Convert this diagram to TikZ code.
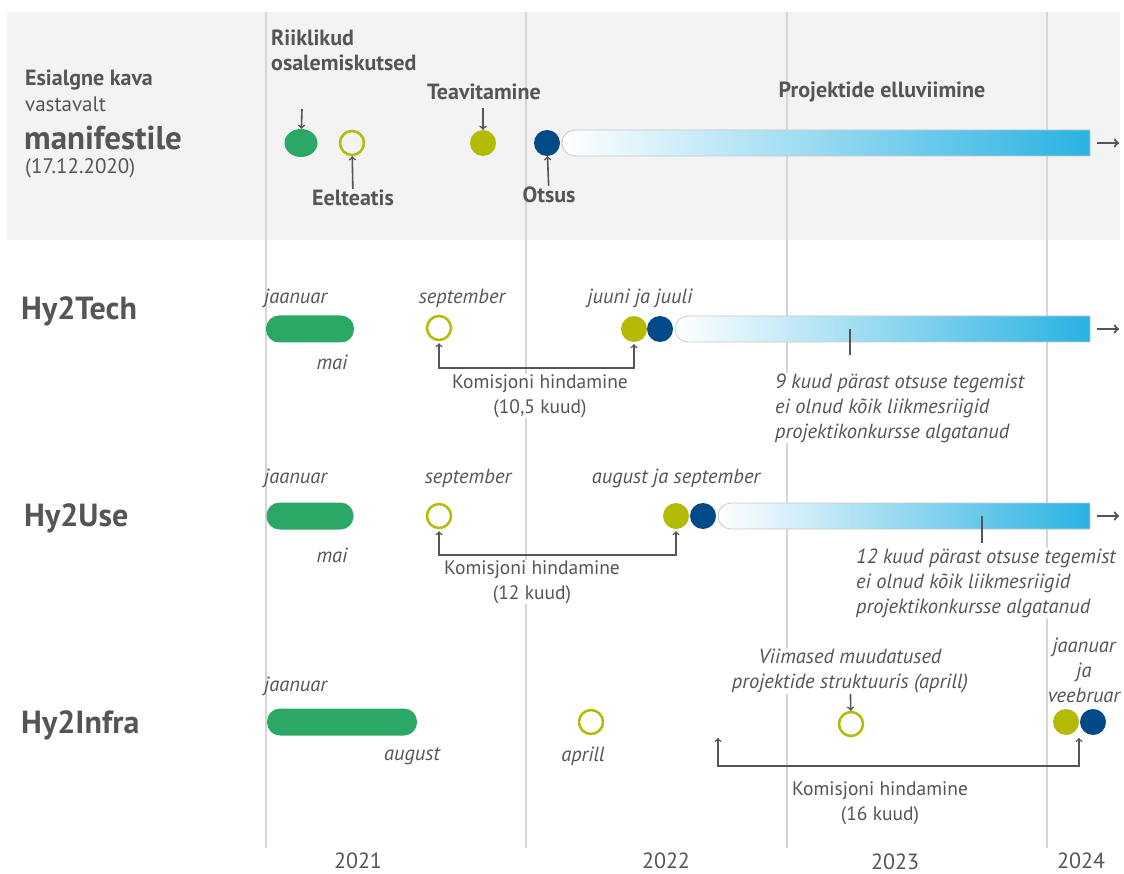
\documentclass[tikz,border=0pt]{standalone}
\usepackage{fontspec}
\setmainfont{PT Sans}
\usetikzlibrary{positioning,shapes.geometric}
\definecolor{ink}{RGB}{85,85,85}
\definecolor{band}{RGB}{243,243,243}
\definecolor{gridgray}{RGB}{214,214,214}
\definecolor{kgreen}{RGB}{43,168,102}
\definecolor{olive}{RGB}{181,186,5}
\definecolor{navy}{RGB}{0,74,135}
\definecolor{barblue}{RGB}{41,178,226}
\definecolor{barline}{RGB}{200,200,200}
\newcommand{\projbar}[3]{\shadedraw[left color=white,right color=barblue,draw=barline,line width=0.8pt]
  (#2,#3-13) -- (#1+13,#3-13) arc[start angle=90,end angle=270,radius=13pt] -- (#2,#3+13) -- cycle;}

\begin{document}
\begin{tikzpicture}[x=1pt,y=-1pt,
  txt/.style={text=ink,inner sep=1pt,font=\fontsize{21}{25}\selectfont},
  bold/.style={txt,font=\fontsize{22}{25}\selectfont\bfseries},
  rowname/.style={txt,anchor=west,font=\fontsize{32}{36}\selectfont\bfseries},
  month/.style={txt,font=\fontsize{20.5}{25}\selectfont\itshape},
  note/.style={month,align=left,fill=white,anchor=west},
  komis/.style={txt,font=\fontsize{19.5}{24.5}\selectfont,align=center,fill=white},
  year/.style={txt,font=\fontsize{22}{26}\selectfont},
  dot/.style={circle,minimum size=26pt,inner sep=0pt,fill=#1},
  ring/.style={circle,minimum size=24pt,inner sep=0pt,draw=olive,line width=2.5pt},
  pill/.style={fill=kgreen,rounded corners=13pt,minimum height=27pt,inner sep=0pt,minimum width=#1},
  gridline/.style={draw=gridgray,line width=2pt},
  pointer/.style={draw=ink,line width=1.6pt,->},
  bracket/.style={draw=ink,line width=1.5pt,<->,shorten <=2pt,shorten >=2pt},
  goon/.style={draw=ink,line width=2.2pt,->},
  tick/.style={draw=ink,line width=2pt}]
\useasboundingbox (0,0) rectangle (1124,874);
\fill[band] (7,12) rectangle (1120,240);
\foreach \gx in {266,526,787,1047} \draw[gridline] (\gx,12) -- (\gx,848);

% esialgne kava
\node[bold,anchor=west] (kava) at (24,80) {Esialgne kava};
\node[txt,anchor=west] (vast) at (24,104) {vastavalt};
\node[txt,anchor=west,font=\fontsize{33}{36}\selectfont\bfseries] (manif) at (23,138) {manifestile};
\node[txt,anchor=west] (kuup) at (24,168) {(17.12.2020)};
\node[bold,anchor=west,align=left] (riik) at (270,50) {Riiklikud\\osalemiskutsed};
\node[bold] (teav) at (484,92) {Teavitamine};
\node[bold] (proj) at (882,92) {Projektide elluviimine};
\node[bold] (eelt) at (353,198) {Eelteatis};
\node[bold] (otsus) at (549,195) {Otsus};
\projbar{562}{1090}{143}
\node[ellipse,fill=kgreen,minimum width=33pt,minimum height=28pt,inner sep=0pt] (g0) at (301,143) {};
\node[ring] (e0) at (352,143) {};
\node[dot=olive] (t0) at (483,143) {};
\node[dot=navy] (o0) at (547,143) {};
\coordinate (riikin) at (302,109); \coordinate (teavin) at (483,108);
\draw[pointer] (riikin) -- (g0); \draw[pointer] (teavin) -- (t0);
\draw[pointer] (eelt) -- (e0); \draw[pointer] (otsus) -- (o0);
\coordinate (b0a) at (1097,143); \coordinate (b0b) at (1119,143);
\draw[goon] (b0a) -- (b0b);

% Hy2Tech
\node[rowname] (tech) at (20,311) {Hy2Tech};
\node[month,anchor=west] (tjaan) at (263,298) {jaanuar};
\node[month] (tmai) at (332,362) {mai};
\node[month] (tsep) at (462,298) {september};
\node[month] (tjuuni) at (640,298) {juuni ja juuli};
\node[pill=88pt] (g1) at (310,329) {};
\node[ring] (e1) at (439,328) {};
\projbar{675}{1090}{329}
\node[dot=olive] (t1) at (634,329) {};
\node[dot=navy] (o1) at (660,329) {};
\coordinate (tmark) at (850,329); \coordinate (tmarkend) at (850,355);
\draw[tick] (tmark) -- (tmarkend);
\node[note] (tnote) at (774,408) {9 kuud pärast otsuse tegemist\\ei olnud kõik liikmesriigid\\projektikonkursse algatanud};
\draw[bracket] (e1) -- (e1 |- 0,368) -| (t1);
\node[komis] (tkom) at (540,396) {Komisjoni hindamine\\(10,5 kuud)};
\coordinate (b1a) at (1097,329); \coordinate (b1b) at (1119,329);
\draw[goon] (b1a) -- (b1b);

% Hy2Use
\node[rowname] (use) at (23,518) {Hy2Use};
\node[month,anchor=west] (ujaan) at (263,478) {jaanuar};
\node[month] (umai) at (332,555) {mai};
\node[month] (usep) at (468,478) {september};
\node[month] (uaug) at (676,478) {august ja september};
\node[pill=87pt] (g2) at (310,516) {};
\node[ring] (e2) at (439,516) {};
\projbar{718}{1090}{516}
\node[dot=olive] (t2) at (676,516) {};
\node[dot=navy] (o2) at (703,516) {};
\coordinate (umark) at (982,516); \coordinate (umarkend) at (982,543);
\draw[tick] (umark) -- (umarkend);
\node[note] (unote) at (855,583) {12 kuud pärast otsuse tegemist\\ei olnud kõik liikmesriigid\\projektikonkursse algatanud};
\draw[bracket] (e2) -- (e2 |- 0,555) -| (t2);
\node[komis] (ukom) at (532,582) {Komisjoni hindamine\\(12 kuud)};
\coordinate (b2a) at (1097,516); \coordinate (b2b) at (1119,516);
\draw[goon] (b2a) -- (b2b);

% Hy2Infra
\node[rowname] (infra) at (20,725) {Hy2Infra};
\node[month,anchor=west] (ijaan) at (263,686) {jaanuar};
\node[month] (iaug) at (412,756) {august};
\node[month] (iapr) at (583,756) {aprill};
\node[pill=150pt] (g3) at (342,722) {};
\node[ring] (e3) at (591,722) {};
\node[month,align=center,fill=white] (imuud) at (850,671) {Viimased muudatused\\projektide struktuuris (aprill)};
\node[ring] (e4) at (851,724) {};
\draw[pointer] (imuud) -- (e4);
\node[month,align=center,fill=white,inner sep=0pt] (ijv) at (1084,670) {jaanuar\\ja\\veebruar};
\node[dot=olive] (t3) at (1066,722) {};
\node[dot=navy] (o3) at (1093,722) {};
\coordinate (ikstart) at (718,738); \coordinate (ikend) at (1079,738);
\draw[bracket,shorten <=0pt,shorten >=0pt] (ikstart) -- (ikstart |- 0,766) -| (ikend);
\node[komis] (ikom) at (880,803) {Komisjoni hindamine\\(16 kuud)};

% aastad
\node[year] (y21) at (358,861) {2021};
\node[year] (y22) at (666,861) {2022};
\node[year] (y23) at (895,862) {2023};
\node[year] (y24) at (1081,861) {2024};
\end{tikzpicture}
\end{document}
